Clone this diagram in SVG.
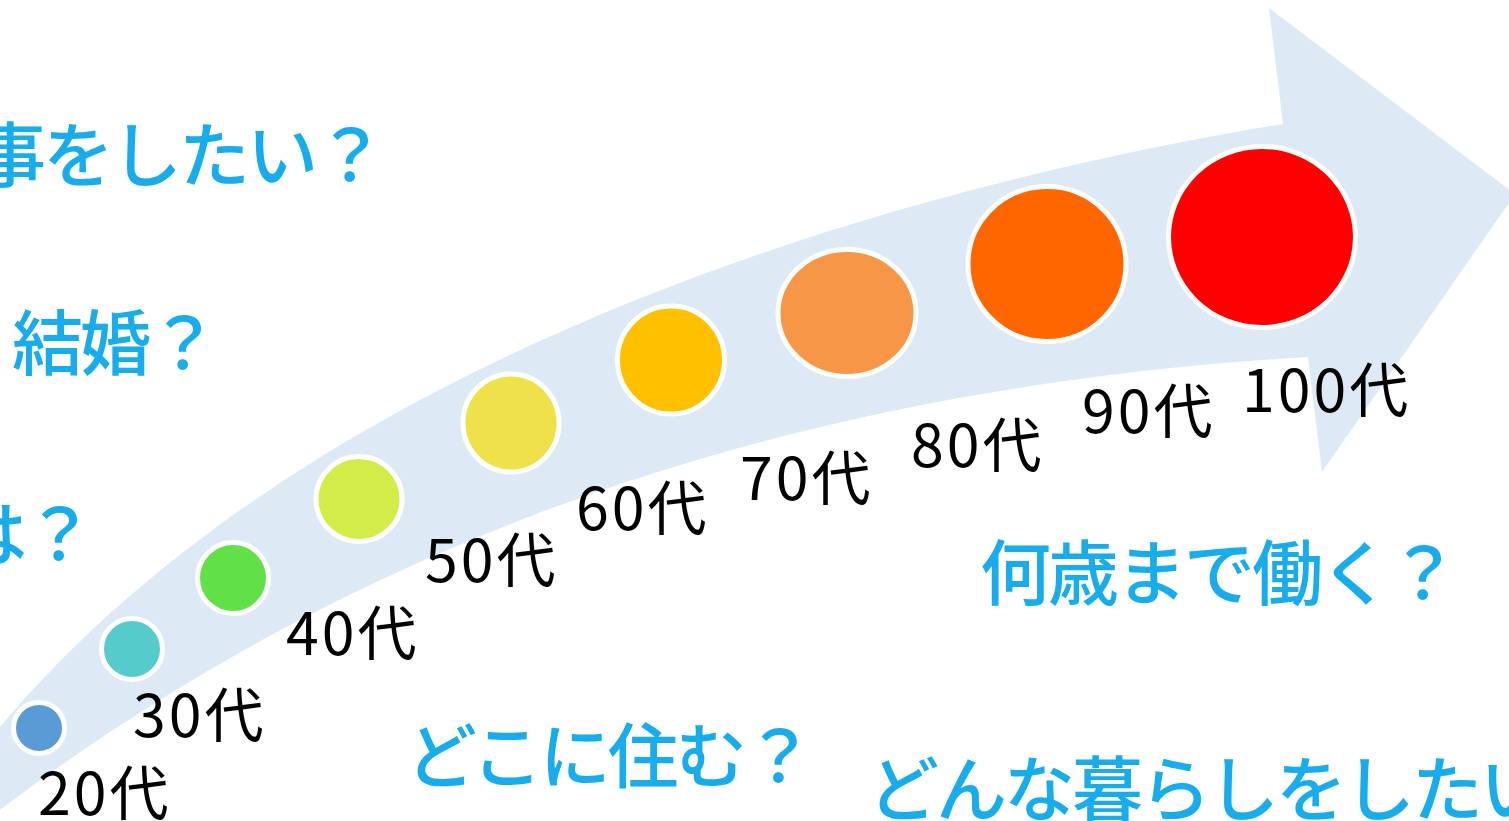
<svg xmlns="http://www.w3.org/2000/svg" width="1509" height="821" viewBox="0 0 1509 821">
<style>
.dot{stroke:#ffffff;stroke-width:5}
.age{font-family:"Noto Sans CJK JP","Noto Sans",sans-serif;font-size:59px;letter-spacing:3px;fill:#000000}
.q{font-family:"Noto Sans CJK JP",sans-serif;font-size:71px;font-weight:500;letter-spacing:-3px;fill:#18ACEB}
</style>
<rect width="1509" height="821" fill="#ffffff"/>
<g id="arrow">
<path d="M0,727 C300,370 850,195 1283,124 L1269,8 L1515,194 L1322,472 L1308,357 C750,390 330,560 0,810 Z" fill="#DDEAF6"/>
</g>
<g id="connectors"></g>
<g id="n20"><ellipse class="dot" cx="39" cy="728" rx="25.5" ry="25.5" fill="#5B9BD5"/><text class="age" x="38" y="815">20代</text></g>
<g id="n30"><ellipse class="dot" cx="132" cy="649" rx="30.5" ry="30.5" fill="#56CBCB"/><text class="age" x="133" y="737">30代</text></g>
<g id="n40"><ellipse class="dot" cx="233" cy="578" rx="35.5" ry="35.5" fill="#62E048"/><text class="age" x="286" y="655">40代</text></g>
<g id="n50"><ellipse class="dot" cx="359" cy="499" rx="43" ry="42.5" fill="#D4EC48"/><text class="age" x="425" y="582">50代</text></g>
<g id="n60"><ellipse class="dot" cx="511" cy="423" rx="48" ry="49" fill="#EEE14A"/><text class="age" x="576" y="530">60代</text></g>
<g id="n70"><ellipse class="dot" cx="671" cy="360" rx="53.5" ry="54" fill="#FFC000"/><text class="age" x="740" y="500">70代</text></g>
<g id="n80"><ellipse class="dot" cx="847" cy="313" rx="69" ry="63.5" fill="#F79646"/><text class="age" x="911" y="467">80代</text></g>
<g id="n90"><ellipse class="dot" cx="1047" cy="264" rx="79" ry="77.5" fill="#FF6600"/><text class="age" x="1082" y="433">90代</text></g>
<g id="n100"><ellipse class="dot" cx="1262" cy="237" rx="93.5" ry="90.5" fill="#FF0000"/><text class="age" x="1242" y="412">100代</text></g>
<g id="questions">
<text class="q" x="-25" y="181">事をしたい？</text>
<text class="q" x="12" y="369">結婚？</text>
<text class="q" x="-44" y="560">は？</text>
<text class="q" x="406" y="782">どこに住む？</text>
<text class="q" x="980" y="599">何歳まで働く？</text>
<text class="q" x="868" y="815">どんな暮らしをしたい</text>
</g>
</svg>
